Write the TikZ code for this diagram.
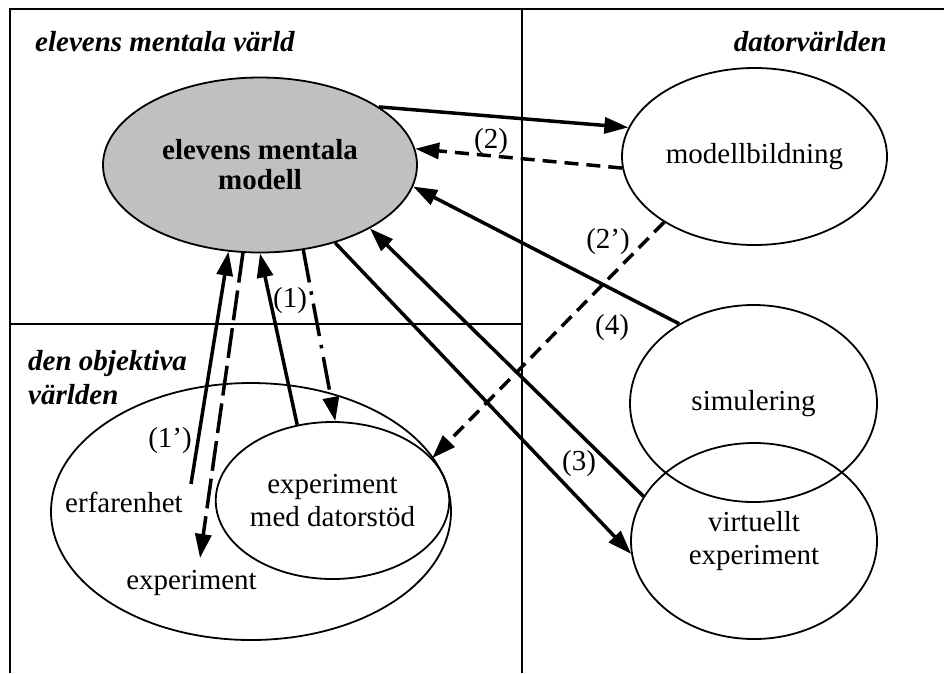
\documentclass[tikz,border=0pt]{standalone}
\usepackage{fontspec}
\setmainfont{Liberation Serif}
\usetikzlibrary{arrows.meta,shapes.geometric}
\definecolor{modelgray}{HTML}{C0C0C0}
\tikzset{
  txt/.style={font=\fontsize{29}{33}\selectfont},
  bubble/.style={ellipse, draw, line width=1.8pt, inner sep=0pt, align=center, txt},
  arr/.style={line width=3.5pt, -{Triangle[length=24pt,width=16pt]}},
  dsh/.style={dash pattern=on 14pt off 8pt},
  longdsh/.style={dash pattern=on 30pt off 8pt},
  dshdot/.style={dash pattern=on 33pt off 9pt on 3.5pt off 9pt},
  lbl/.style={inner sep=0pt, txt},
  ttl/.style={inner sep=0pt, font=\fontsize{29}{33}\selectfont\bfseries\itshape},
  frame/.style={line width=2.2pt},
}
\begin{document}
\begin{tikzpicture}[x=1pt,y=-1pt]
  \useasboundingbox (0,0) rectangle (944,673);

  % frame and dividing lines
  \draw[frame] (10,673) -- (10,9) -- (944,9);
  \draw[frame] (522,9) -- (522,673);
  \draw[line width=1.8pt] (10,324) -- (522,324);

  % region titles
  \node[ttl, anchor=base west] (t1) at (35,51) {elevens mentala värld};
  \node[ttl, anchor=base east] (t2) at (887,51) {datorvärlden};
  \node[ttl, anchor=base west] (t3a) at (28,370) {den objektiva};
  \node[ttl, anchor=base west] (t3b) at (28,404) {världen};

  % ellipses
  \node[bubble, fill=modelgray, minimum width=314pt, minimum height=175pt,
        font=\fontsize{29}{30}\selectfont\bfseries] (gm) at (260,165) {elevens mentala\\modell};
  \node[bubble, minimum width=265pt, minimum height=177pt] (mb) at (754.5,156.5) {modellbildning};
  \node[bubble, minimum width=247pt, minimum height=197pt] (sim) at (753.5,403.5) {simulering};
  \node[bubble, minimum width=246pt, minimum height=196pt] (ve) at (754,541) {virtuellt\\experiment};
  \node[bubble, minimum width=400pt, minimum height=257pt] (ow) at (251,511.5) {};
  \node[bubble, minimum width=229pt, minimum height=157pt] (ed) at (332.5,500.5) {experiment\\med datorstöd};
  \node[lbl, anchor=base] (erf) at (124,512) {erfarenhet};
  \node[lbl, anchor=base] (exp) at (191.5,589) {experiment};

  % free ends inside the lower ellipse
  \coordinate (erfout) at (191,484);
  \coordinate (expin) at (200,558);

  % connectors
  \draw[arr] (gm.26.4) -- (mb.167.6);
  \draw[arr, dsh] (mb.-175.5) -- (gm.6.3);
  \draw[arr] (sim.133.9) -- (gm.-8.5);
  \draw[arr, dsh] (mb.216) -- (ed.23.1);
  \draw[arr] (ve.158.9) -- (gm.-30.4);
  \draw[arr] (gm.-46.1) -- (ve.186.6);
  \draw[arr] (erfout) -- (gm.-110.2);
  \draw[arr, longdsh] (gm.-101.9) -- (expin);
  \draw[arr] (ed.115.5) -- (gm.-90);
  \draw[arr, dshdot] (gm.-63.7) -- (ed.88);

  % connector labels
  \node[lbl] (l2) at (491,142) {(2)};
  \node[lbl] (l2b) at (608,242) {(2’)};
  \node[lbl] (l4) at (612,328) {(4)};
  \node[lbl] (l1) at (290,301) {(1)};
  \node[lbl] (l1b) at (170,441) {(1’)};
  \node[lbl] (l3) at (579,464) {(3)};
\end{tikzpicture}
\end{document}
